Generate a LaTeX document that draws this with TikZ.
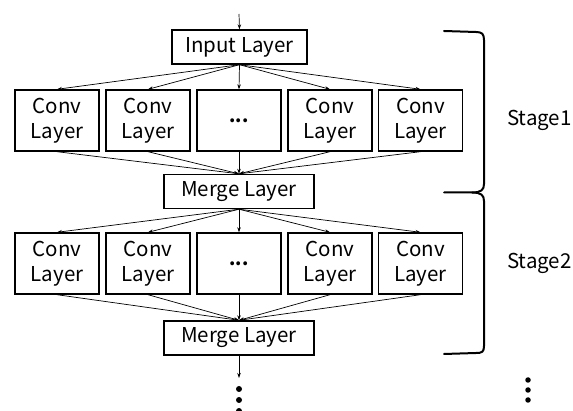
\documentclass[tikz,border=0pt]{standalone}
\usepackage{fontspec}
\setmainfont{Noto Sans CJK KR}
\usetikzlibrary{arrows.meta}
\begin{document}
\begin{tikzpicture}[x=1pt,y=-1pt,
  txt/.style={font=\fontsize{20.5}{25}\selectfont,align=center,inner sep=0pt},
  box/.style={draw,line width=1.4pt,inner sep=0pt,txt},
  conv/.style={box,minimum width=84pt,minimum height=61pt},
  merge/.style={box,minimum width=150pt,minimum height=34pt},
  inp/.style={box,minimum width=135pt,minimum height=34pt},
  arr/.style={line width=0.7pt,-{Stealth[length=5pt,width=3.5pt]}},
  brace/.style={line width=2pt,line cap=round,line join=round},
  dot/.style={fill=black,circle,inner sep=0pt,minimum size=6pt}]
\useasboundingbox (0,0) rectangle (573,411);
\coordinate (top) at (239,14);
\node[inp] (in) at (239.5,47) {Input Layer};
\foreach \i/\x in {1/57,2/148,3/239,4/330,5/420.5}{
  \node[conv] (a\i) at (\x,120.5) {};
  \node[conv] (b\i) at (\x,263.5) {};
}
\node[merge] (m1) at (239,191.5) {Merge Layer};
\node[merge] (m2) at (239,338) {Merge Layer};
\foreach \i in {1,2,4,5}{
  \node[txt] at (a\i) {Conv\\Layer};
  \node[txt] at (b\i) {Conv\\Layer};
}
\node[font=\bfseries\fontsize{18}{20}\selectfont] at (a3) {...};
\node[font=\bfseries\fontsize{18}{20}\selectfont] at (b3) {...};
\draw[arr] (top) -- (in.north);
\foreach \i in {1,...,5}{
  \draw[arr] (in.south) -- (a\i.north);
  \draw[arr] (a\i.south) -- (m1.north);
  \draw[arr] (m1.south) -- (b\i.north);
  \draw[arr] (b\i.south) -- (m2.north);
}
\coordinate (bot) at (239,378);
\draw[arr] (m2.south) -- (bot);
\node[dot] (d1) at (239,389) {};
\node[dot] (d2) at (239,400) {};
\node[dot] (d3) at (239,411) {};
\node[dot,minimum size=5.5pt] (e1) at (528,380) {};
\node[dot,minimum size=5.5pt] (e2) at (528,390) {};
\node[dot,minimum size=5.5pt] (e3) at (528,400) {};
% braces
\draw[brace] (444,31) -- (476,32) .. controls (482,32) and (484,34) .. (484,40)
  -- (484,184) .. controls (484,190) and (481,192.5) .. (472,192.5) -- (444,192.5);
\draw[brace] (472,192.5) .. controls (481,192.5) and (484,195) .. (484,201)
  -- (484,346) .. controls (484,352) and (482,353) .. (476,353) -- (444,354);
\node[txt,anchor=west] (s1) at (507,120) {Stage1};
\node[txt,anchor=west] (s2) at (507,263) {Stage2};
\end{tikzpicture}
\end{document}
